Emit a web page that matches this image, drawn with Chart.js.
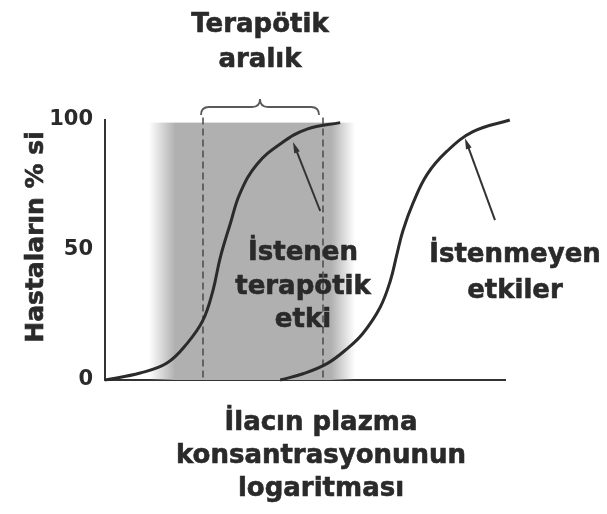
<!DOCTYPE html>
<html lang="tr">
<head>
<meta charset="utf-8">
<title>Terapötik aralık</title>
<script src="https://cdn.jsdelivr.net/npm/chart.js@4.4.0/dist/chart.umd.min.js"></script>
<style>
  html, body { margin: 0; padding: 0; background: #fff; }
  #wrap { width: 607px; height: 514px; }
</style>
</head>
<body>
<div id="wrap"><canvas id="doseChart" width="607" height="514"></canvas></div>
<script>
// x: log plasma concentration (arbitrary units), y: % of patients responding
const desiredX = [0, 0.88, 1.55, 2.05, 2.45, 2.7, 2.88, 3.13, 3.38, 3.8, 4.4, 5.05, 5.88];
const desiredY = [0, 2.7, 6.5, 14, 23, 34.5, 47, 60, 72, 83, 91, 96.5, 99];
const adverseX = [4.38, 4.95, 5.55, 6.05, 6.45, 6.88, 7.13, 7.3, 7.45, 7.7, 8.05, 8.55, 9.2, 10.12];
const adverseY = [0, 2.4, 6.3, 12, 18, 28, 38, 48.5, 57.5, 68, 79, 88, 95.5, 100];
const yTicks = [0, 50, 100];

const therapeuticRange = [2.45, 5.45];    // dashed bounds
const shadeEdges = [1.1, 1.75, 5.65, 6.25]; // fade in .. solid .. fade out
const shadeTop = 99;
const braceSpan = [2.4, 5.35];
const braceLevel = 105;

const titleLines = ["Terapötik", "aralık"];
const desiredLines = ["İstenen", "terapötik", "etki"];
const adverseLines = ["İstenmeyen", "etkiler"];
const xTitleLines = ["İlacın plazma", "konsantrasyonunun", "logaritması"];
const yTitle = "Hastaların % si";

// arrows: [tailX, tailY, headX, headY] in data units
const arrows = [
  [5.38, 65, 4.7, 91.5],
  [9.75, 61.5, 9.0, 93]
];

const FONT = "'DejaVu Sans', sans-serif";
const INK = "#2a2a2a";
const SHADE = "176,176,176";

function toPoints(xs, ys) {
  return xs.map((x, i) => ({ x: x, y: ys[i] }));
}

// bold text with a hairline stroke to thicken it a little
function drawLines(ctx, lines, cx, baseline, lead) {
  lines.forEach((t, i) => {
    ctx.fillText(t, cx, baseline + i * lead);
    ctx.strokeText(t, cx, baseline + i * lead);
  });
}

function drawArrow(ctx, x1, y1, x2, y2) {
  const a = Math.atan2(y2 - y1, x2 - x1);
  const len = 11, half = 3;
  ctx.beginPath();
  ctx.moveTo(x1, y1);
  ctx.lineTo(x2 - Math.cos(a) * len * 0.6, y2 - Math.sin(a) * len * 0.6);
  ctx.stroke();
  ctx.beginPath();
  ctx.moveTo(x2, y2);
  ctx.lineTo(x2 - Math.cos(a) * len - Math.sin(a) * half, y2 - Math.sin(a) * len + Math.cos(a) * half);
  ctx.lineTo(x2 - Math.cos(a) * len + Math.sin(a) * half, y2 - Math.sin(a) * len - Math.cos(a) * half);
  ctx.closePath();
  ctx.fill();
}

function drawBrace(ctx, xa, xb, yb, h) {
  const xm = (xa + xb) / 2;
  ctx.beginPath();
  ctx.moveTo(xa, yb + h);
  ctx.quadraticCurveTo(xa, yb, xa + h, yb);
  ctx.lineTo(xm - h, yb);
  ctx.quadraticCurveTo(xm, yb, xm, yb - h);
  ctx.quadraticCurveTo(xm, yb, xm + h, yb);
  ctx.lineTo(xb - h, yb);
  ctx.quadraticCurveTo(xb, yb, xb, yb + h);
  ctx.stroke();
}

const overlay = {
  id: "overlay",
  beforeDatasetsDraw(chart) {
    const { ctx, scales: { x, y } } = chart;
    const px = shadeEdges.map((v) => x.getPixelForValue(v));
    const top = y.getPixelForValue(shadeTop);
    const bottom = y.getPixelForValue(0);
    const w = px[3] - px[0];
    const g = ctx.createLinearGradient(px[0], 0, px[3], 0);
    g.addColorStop(0, "rgba(" + SHADE + ",0)");
    g.addColorStop((px[1] - px[0]) / w, "rgba(" + SHADE + ",1)");
    g.addColorStop((px[2] - px[0]) / w, "rgba(" + SHADE + ",1)");
    g.addColorStop(1, "rgba(" + SHADE + ",0)");
    ctx.save();
    ctx.fillStyle = g;
    ctx.fillRect(px[0], top, w, bottom - top);

    // therapeutic range bounds
    ctx.strokeStyle = "#4a4a4a";
    ctx.lineWidth = 1.5;
    ctx.setLineDash([7, 4]);
    therapeuticRange.forEach((v) => {
      const xx = x.getPixelForValue(v);
      ctx.beginPath();
      ctx.moveTo(xx, y.getPixelForValue(101));
      ctx.lineTo(xx, bottom);
      ctx.stroke();
    });
    ctx.restore();
  },
  afterDatasetsDraw(chart) {
    const { ctx, chartArea, scales: { x, y } } = chart;
    ctx.save();

    // brace + heading
    ctx.strokeStyle = "#5a5a5a";
    ctx.lineWidth = 1.8;
    const by = y.getPixelForValue(braceLevel);
    const bx0 = x.getPixelForValue(braceSpan[0]);
    const bx1 = x.getPixelForValue(braceSpan[1]);
    drawBrace(ctx, bx0, bx1, by, 8);

    ctx.fillStyle = INK;
    ctx.strokeStyle = INK;
    ctx.lineWidth = 0.6;
    ctx.textAlign = "center";
    ctx.textBaseline = "alphabetic";
    ctx.font = "bold 26px " + FONT;
    drawLines(ctx, titleLines, (bx0 + bx1) / 2, by - 75, 35);

    // curve labels
    drawLines(ctx, desiredLines, x.getPixelForValue(4.95), y.getPixelForValue(46), 33.5);
    drawLines(ctx, adverseLines, x.getPixelForValue(10.25), y.getPixelForValue(45.5), 36);

    // x axis caption
    drawLines(ctx, xTitleLines, x.getPixelForValue(5.4), chartArea.bottom + 50, 33);

    // y axis caption
    ctx.font = "bold 25px " + FONT;
    ctx.translate(chartArea.left - 62, y.getPixelForValue(55));
    ctx.rotate(-Math.PI / 2);
    ctx.fillText(yTitle, 0, 0);
    ctx.strokeText(yTitle, 0, 0);
    ctx.setTransform(1, 0, 0, 1, 0, 0);

    // pointers from labels to curves
    ctx.strokeStyle = "#333";
    ctx.fillStyle = "#333";
    ctx.lineWidth = 2;
    arrows.forEach((a) => {
      drawArrow(ctx, x.getPixelForValue(a[0]), y.getPixelForValue(a[1]),
        x.getPixelForValue(a[2]), y.getPixelForValue(a[3]));
    });
    ctx.restore();
  }
};

const curveStyle = {
  borderColor: "#2b2b2b",
  borderWidth: 3,
  pointRadius: 0,
  tension: 0.4,
  fill: false,
  clip: false
};

new Chart(document.getElementById("doseChart"), {
  type: "line",
  data: {
    datasets: [
      Object.assign({ label: "İstenen terapötik etki", data: toPoints(desiredX, desiredY) }, curveStyle),
      Object.assign({ label: "İstenmeyen etkiler", data: toPoints(adverseX, adverseY) }, curveStyle)
    ]
  },
  options: {
    responsive: false,
    animation: false,
    layout: { padding: { top: 120, right: 102, left: 0, bottom: 0 } },
    plugins: { legend: { display: false }, tooltip: { enabled: false } },
    scales: {
      x: {
        type: "linear",
        min: 0,
        max: 10,
        grid: { display: false },
        ticks: { display: false },
        border: { color: "#333", width: 2 },
        afterFit: (scale) => { scale.height = 134; }
      },
      y: {
        min: 0,
        max: 100,
        grid: { display: false },
        border: { color: "#333", width: 2 },
        afterBuildTicks: (scale) => { scale.ticks = yTicks.map((v) => ({ value: v })); },
        ticks: {
          color: INK,
          padding: 4,
          font: { family: FONT, size: 21, weight: "bold" }
        },
        afterFit: (scale) => { scale.width = 105; }
      }
    }
  },
  plugins: [overlay]
});
</script>
</body>
</html>
